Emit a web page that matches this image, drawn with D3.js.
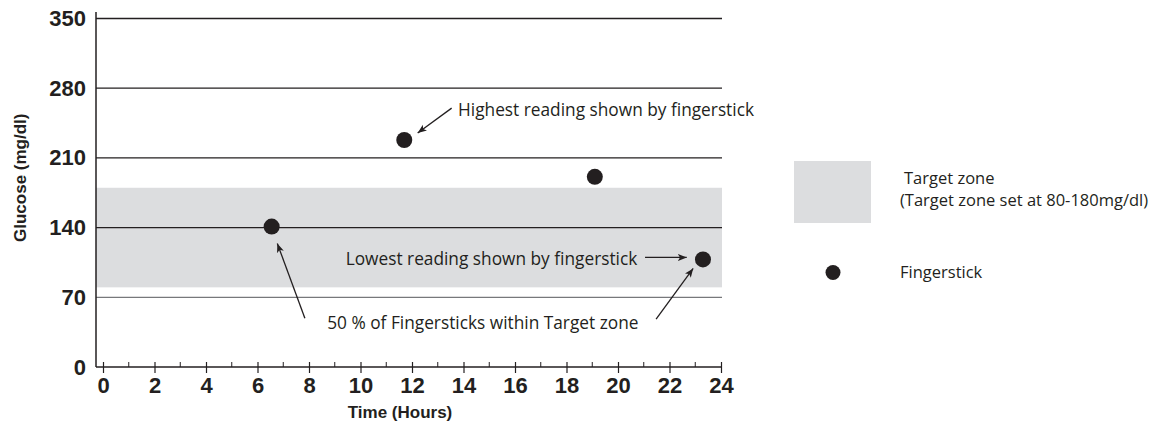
<!DOCTYPE html>
<html><head><meta charset="utf-8">
<script src="https://cdn.jsdelivr.net/npm/d3@7"></script>
<style>
body{margin:0;background:#fff;}
svg{display:block;}
.tick-lbl{font-family:"Liberation Sans",Arial,sans-serif;font-weight:bold;fill:#231f20;}
.ann{font-family:"Open Sans","Noto Sans",sans-serif;fill:#231f20;}
</style>
</head><body>
<svg id="c" width="1164" height="431"></svg>
<script>
// ---- data ----
const yTicks = [0, 70, 140, 210, 280, 350];
const xTicks = [0, 2, 4, 6, 8, 10, 12, 14, 16, 18, 20, 22, 24];
const xMinorTicks = [1, 3, 5, 7, 9, 11, 13, 15, 17, 19, 21, 23];
const hours = [6.55, 11.7, 19.1, 23.3];
const glucose = [141, 228, 191, 108];
const targetZone = [80, 180];
const yTitle = "Glucose (mg/dl)";
const xTitle = "Time (Hours)";
const annotationTexts = ["Highest reading shown by fingerstick", "Lowest reading shown by fingerstick", "50 % of Fingersticks within Target zone"];
const legendLabels = ["Target zone", "(Target zone set at 80-180mg/dl)", "Fingerstick"];

const ink = "#231f20";
const svg = d3.select("#c");
const x = d3.scaleLinear().domain([0, 24]).range([103, 721]);
const y = d3.scaleLinear().domain([0, 350]).range([367, 18.5]);
const left = 96, right = 722;

svg.append("defs").append("marker")
  .attr("id", "ah").attr("viewBox", "0 0 10 10").attr("refX", 10).attr("refY", 5)
  .attr("markerWidth", 9).attr("markerHeight", 9).attr("markerUnits", "userSpaceOnUse")
  .attr("orient", "auto")
  .append("path").attr("d", "M0,1 L10,5 L0,9 L2.5,5 Z").attr("fill", ink);

// target band
svg.append("rect")
  .attr("x", left).attr("width", right - left)
  .attr("y", y(targetZone[1])).attr("height", y(targetZone[0]) - y(targetZone[1]))
  .attr("fill", "#dcdddf");

// gridlines
svg.append("g").selectAll("line").data(yTicks.filter(d => d > 0)).join("line")
  .attr("x1", left).attr("x2", right)
  .attr("y1", d => y(d)).attr("y2", d => y(d))
  .attr("stroke", d => d === 70 ? "#77787b" : ink).attr("stroke-width", 1.3);

// y axis (labels only) via d3 axis
const yAxis = svg.append("g").attr("transform", `translate(${left},0)`)
  .call(d3.axisLeft(y).tickValues(yTicks).tickSize(0).tickPadding(10));
yAxis.select(".domain").remove();
yAxis.selectAll("text").attr("class", "tick-lbl").style("font-size", "22px");

svg.append("line").attr("x1", left).attr("x2", left).attr("y1", 12).attr("y2", y(0))
  .attr("stroke", ink).attr("stroke-width", 1.5);

// x axis
svg.append("line").attr("x1", left).attr("x2", x(24)).attr("y1", y(0)).attr("y2", y(0))
  .attr("stroke", ink).attr("stroke-width", 1.5);
svg.append("g").selectAll("line").data(xMinorTicks).join("line")
  .attr("x1", d => x(d)).attr("x2", d => x(d)).attr("y1", y(0) - 5).attr("y2", y(0))
  .attr("stroke", ink).attr("stroke-width", 1);
const xAxis = svg.append("g").attr("transform", `translate(0,${y(0) + 6})`)
  .call(d3.axisBottom(x).tickValues(xTicks).tickSizeInner(11).tickSizeOuter(0));
xAxis.select(".domain").remove();
xAxis.selectAll(".tick line").attr("transform", "translate(0,-11)").attr("stroke", ink).attr("stroke-width", 1.2);
xAxis.selectAll("text").attr("class", "tick-lbl").style("font-size", "22px").attr("y", 4).attr("dy", "0.71em");

// axis titles
svg.append("text").attr("class", "tick-lbl").style("font-size", "17px")
  .attr("transform", `translate(26,${(y(0) + y(350)) / 2 - 15}) rotate(-90)`)
  .attr("text-anchor", "middle").text(yTitle);
svg.append("text").attr("class", "tick-lbl").style("font-size", "17px")
  .attr("x", 400).attr("y", 418).attr("text-anchor", "middle").text(xTitle);

// annotation arrows (data coordinates)
const arrows = [
  {x1: 13.54, y1: 260, x2: 12.22, y2: 235},
  {x1: 21.05, y1: 110, x2: 22.67, y2: 110},
  {x1: 7.84, y1: 49, x2: 6.77, y2: 124},
  {x1: 21.48, y1: 48, x2: 22.92, y2: 99}
];
svg.append("g").selectAll("line").data(arrows).join("line")
  .attr("x1", d => x(d.x1)).attr("y1", d => y(d.y1))
  .attr("x2", d => x(d.x2)).attr("y2", d => y(d.y2))
  .attr("stroke", ink).attr("stroke-width", 1.3).attr("marker-end", "url(#ah)");

// annotation texts
const annPos = [
  {x: 13.79, y: 258, anchor: "start"},
  {x: 20.75, y: 109, anchor: "end"},
  {x: 14.75, y: 44, anchor: "middle"}
];
svg.append("g").selectAll("text").data(annotationTexts).join("text")
  .attr("class", "ann").style("font-size", "17.3px")
  .attr("x", (d, i) => x(annPos[i].x)).attr("y", (d, i) => y(annPos[i].y))
  .attr("dy", "0.35em").attr("text-anchor", (d, i) => annPos[i].anchor).text(d => d);

// points
svg.append("g").selectAll("circle").data(hours).join("circle")
  .attr("cx", d => x(d)).attr("cy", (d, i) => y(glucose[i])).attr("r", 8)
  .attr("fill", ink);

// legend
svg.append("rect").attr("x", 794).attr("y", 161).attr("width", 77).attr("height", 62).attr("fill", "#dcdddf");
svg.append("circle").attr("cx", 833).attr("cy", 272.5).attr("r", 7.5).attr("fill", ink);
const legPos = [[904, 178.5], [900, 200.5], [900, 272]];
svg.append("g").selectAll("text").data(legendLabels).join("text")
  .attr("class", "ann").style("font-size", "16.5px")
  .attr("x", (d, i) => legPos[i][0]).attr("y", (d, i) => legPos[i][1]).attr("dy", "0.35em")
  .text(d => d);
</script>
</body></html>
